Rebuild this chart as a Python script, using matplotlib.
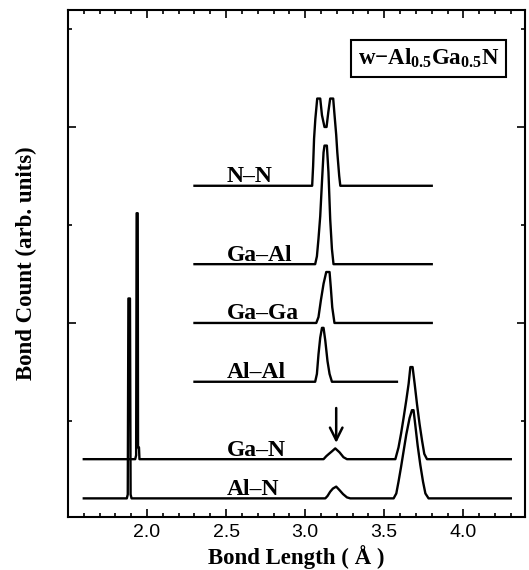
import numpy as np
import matplotlib
matplotlib.use('Agg')
import matplotlib.pyplot as plt
from matplotlib.ticker import MultipleLocator

plt.rcParams['mathtext.fontset'] = 'custom'
plt.rcParams['mathtext.rm'] = 'Liberation Serif:bold'
plt.rcParams['mathtext.bf'] = 'Liberation Serif:bold'
plt.rcParams['mathtext.it'] = 'Liberation Serif:bold:italic'

# bond-length profiles (x in Angstrom, y = count above own baseline)
nn_x = [2.30, 3.044, 3.050, 3.056, 3.064, 3.076, 3.095, 3.106, 3.122, 3.135, 3.146,
        3.158, 3.177, 3.184, 3.196, 3.203, 3.215, 3.222, 3.80]
nn_y = [0, 0, 0.10, 0.24, 0.34, 0.445, 0.445, 0.36, 0.30, 0.30, 0.375,
        0.445, 0.445, 0.375, 0.26, 0.17, 0.05, 0, 0]

gaal_x = [2.30, 3.063, 3.074, 3.084, 3.095, 3.106, 3.116, 3.122, 3.137, 3.147,
          3.158, 3.169, 3.179, 3.80]
gaal_y = [0, 0, 0.04, 0.13, 0.245, 0.42, 0.57, 0.605, 0.605, 0.47,
          0.23, 0.077, 0, 0]

gaga_x = [2.30, 3.070, 3.084, 3.099, 3.116, 3.133, 3.154, 3.162, 3.171, 3.185, 3.80]
gaga_y = [0, 0, 0.03, 0.115, 0.20, 0.26, 0.26, 0.18, 0.08, 0, 0]

alal_x = [2.30, 3.063, 3.074, 3.084, 3.095, 3.106, 3.116, 3.127, 3.141, 3.154, 3.169, 3.58]
alal_y = [0, 0, 0.04, 0.14, 0.225, 0.275, 0.275, 0.21, 0.105, 0.04, 0, 0]

gan_x = [1.60, 1.925, 1.931, 1.934, 1.941, 1.943, 1.949, 1.952,
         3.116, 3.133, 3.147, 3.169, 3.190, 3.217, 3.242, 3.264,
         3.570, 3.590, 3.606, 3.622, 3.639, 3.654, 3.665, 3.679, 3.692,
         3.707, 3.723, 3.739, 3.753, 3.770, 4.30]
gan_y = [0, 0, 0.02, 1.255, 1.255, 0.06, 0.06, 0,
         0, 0.015, 0.025, 0.04, 0.055, 0.035, 0.01, 0,
         0, 0.06, 0.13, 0.21, 0.30, 0.385, 0.47, 0.47, 0.385,
         0.28, 0.18, 0.094, 0.027, 0, 0]

aln_x = [1.60, 1.872, 1.878, 1.882, 1.892, 1.896, 1.902,
         3.127, 3.141, 3.158, 3.175, 3.196, 3.217, 3.239, 3.264, 3.285,
         3.559, 3.576, 3.590, 3.606, 3.622, 3.639, 3.660, 3.675, 3.685,
         3.696, 3.711, 3.728, 3.745, 3.760, 3.780, 4.30]
aln_y = [0, 0, 0.02, 1.02, 1.02, 0.02, 0,
         0, 0.012, 0.034, 0.05, 0.06, 0.042, 0.022, 0.005, 0,
         0, 0.025, 0.085, 0.16, 0.24, 0.325, 0.41, 0.45, 0.45,
         0.375, 0.27, 0.17, 0.085, 0.025, 0, 0]

labels = ['N\u2013N', 'Ga\u2013Al', 'Ga\u2013Ga', 'Al\u2013Al', 'Ga\u2013N', 'Al\u2013N']
offsets = [1.70, 1.30, 1.00, 0.70, 0.305, 0.105]
curves = [(nn_x, nn_y), (gaal_x, gaal_y), (gaga_x, gaga_y),
          (alal_x, alal_y), (gan_x, gan_y), (aln_x, aln_y)]

fig = plt.figure(figsize=(5.29, 5.70), dpi=100)
ax = fig.add_axes([0.1285, 0.093, 0.864, 0.8895])

for (x, y), off, lab in zip(curves, offsets, labels):
    ax.plot(x, np.array(y) + off, color='k', lw=1.7)
    ax.text(2.505, off + 0.018, lab, ha='left', va='baseline',
            fontsize=17, fontweight='bold', family='Liberation Serif')

ax.annotate('', xy=(3.196, 0.388), xytext=(3.196, 0.566),
            arrowprops=dict(arrowstyle='->,head_length=0.9,head_width=0.45',
                            lw=1.8, color='k', shrinkA=0, shrinkB=0))

ax.text(3.78, 2.35, r'w$\mathregular{-}$Al$_{\mathit{0.5}}$Ga$_{\mathit{0.5}}$N',
        ha='center', va='center', fontsize=16.5, fontweight='bold',
        family='Liberation Serif',
        bbox=dict(boxstyle='square,pad=0.3', fc='white', ec='k', lw=1.5))

ax.set_xlim(1.5, 4.39)
ax.set_ylim(0.01, 2.597)
ax.xaxis.set_major_locator(MultipleLocator(0.5))
ax.xaxis.set_minor_locator(MultipleLocator(0.1))
ax.yaxis.set_major_locator(MultipleLocator(1.0))
ax.yaxis.set_minor_locator(MultipleLocator(0.5))
ax.set_xticks([2.0, 2.5, 3.0, 3.5, 4.0])
ax.set_xticklabels(['2.0', '2.5', '3.0', '3.5', '4.0'], family='Liberation Sans', fontsize=14)
ax.set_yticklabels([])
ax.tick_params(which='both', direction='in', top=True, right=True, width=1.2)
ax.tick_params(which='major', length=6, pad=5)
ax.tick_params(which='minor', length=3)
for s in ax.spines.values():
    s.set_linewidth(1.5)

ax.set_xlabel('Bond Length ( \u00c5 )', fontsize=16.5, fontweight='bold',
              family='Liberation Serif', labelpad=3)
ax.set_ylabel('Bond Count (arb. units)', fontsize=16.5, fontweight='bold',
              family='Liberation Serif', labelpad=17)

plt.savefig('out.png', dpi=100)
